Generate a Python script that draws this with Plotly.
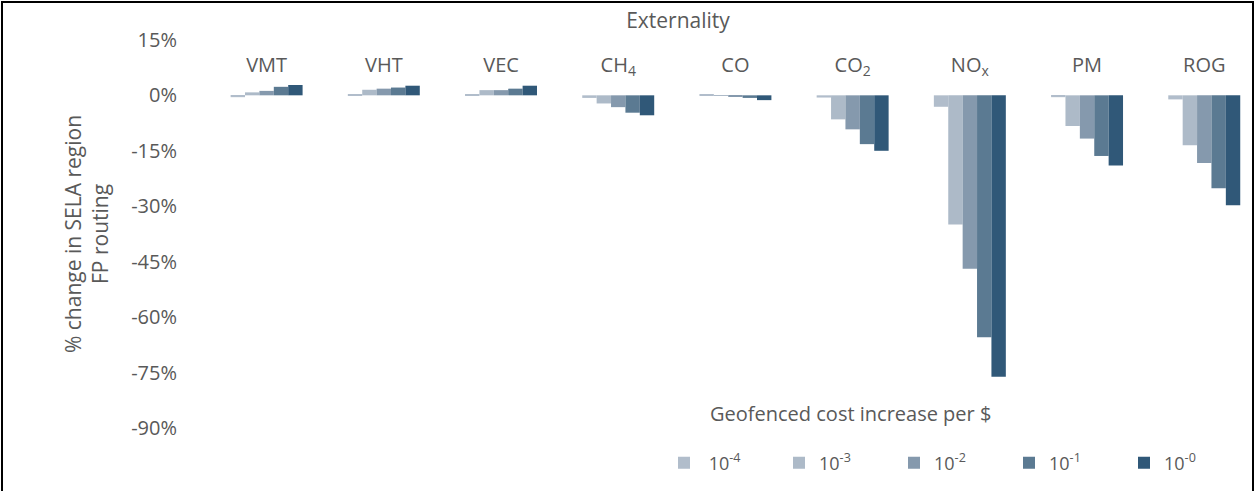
import plotly.graph_objects as go

categories = ["VMT", "VHT", "VEC", "CH<sub>4</sub>", "CO", "CO<sub>2</sub>", "NO<sub>x</sub>", "PM", "ROG"]
series_names = [" 10<sup>-4</sup>", "10<sup>-3</sup>", "10<sup>-2</sup>", "10<sup>-1</sup>", "10<sup>-0</sup>"]

# % change values (fractions) per series
s_1e4 = [-0.005, 0.002, 0.002, -0.007, 0.003, -0.006, -0.031, -0.005, -0.011]
s_1e3 = [0.008, 0.015, 0.014, -0.022, -0.001, -0.065, -0.349, -0.083, -0.135]
s_1e2 = [0.012, 0.018, 0.014, -0.032, -0.003, -0.092, -0.469, -0.117, -0.183]
s_1e1 = [0.023, 0.021, 0.018, -0.047, -0.007, -0.132, -0.654, -0.164, -0.251]
s_1e0 = [0.028, 0.026, 0.026, -0.054, -0.013, -0.150, -0.761, -0.190, -0.297]

series_values = [s_1e4, s_1e3, s_1e2, s_1e1, s_1e0]
colors = ["#b1bdcb", "#adbac8", "#8599ad", "#5b7a92", "#305878"]

y_ticks = [0.15, 0, -0.15, -0.30, -0.45, -0.60, -0.75, -0.90]
y_ticktext = ["15%", "0%", "-15%", "-30%", "-45%", "-60%", "-75%", "-90%"]

W, H = 1257, 491
ML, MR, MT, MB = 208, 0, 38, 61
PW = W - ML - MR
PH = H - MT - MB

def px_x(p):
    return (p - ML) / PW

def px_y(p):
    return (H - MB - p) / PH

fig = go.Figure()
for name, vals, col in zip(series_names, series_values, colors):
    fig.add_trace(go.Bar(x=categories, y=vals, name=name, marker=dict(color=col, line=dict(width=0))))

grey = "#595959"
font = "'Open Sans', Lato, sans-serif"

fig.update_layout(
    width=W, height=H,
    margin=dict(l=ML, r=MR, t=MT, b=MB, autoexpand=False),
    paper_bgcolor="white", plot_bgcolor="white",
    font=dict(family=font, color=grey, size=17),
    barmode="group", bargap=0.386, bargroupgap=0,
    title=dict(text="Externality", x=678 / W, xanchor="center", y=1 - 21 / H, yanchor="middle",
               font=dict(size=21, color=grey, family=font)),
    xaxis=dict(side="top", anchor="free", position=px_y(76), automargin=False,
               range=[-0.5, 8.45], showgrid=False, zeroline=False, showline=False,
               tickfont=dict(size=20, color=grey), ticks=""),
    yaxis=dict(range=[-0.905, 0.155], tickvals=y_ticks, ticktext=y_ticktext, automargin=False,
               showgrid=False, zeroline=False, showline=False, ticks="",
               ticklabelstandoff=30, tickfont=dict(size=20, color=grey)),
    legend=dict(orientation="h", x=px_x(664), y=px_y(463), xanchor="left", yanchor="middle",
                entrywidth=70, entrywidthmode="pixels", font=dict(size=18, color=grey),
                bgcolor="rgba(0,0,0,0)", traceorder="normal"),
    annotations=[
        dict(text="% change in SELA region<br>FP routing", xref="paper", yref="paper",
             x=px_x(86), y=px_y(234), xanchor="center", yanchor="middle", textangle=-90,
             showarrow=False, font=dict(size=21, color=grey)),
        dict(text="Geofenced cost increase per $", xref="paper", yref="paper",
             x=px_x(850), y=px_y(413), xanchor="center", yanchor="middle",
             showarrow=False, font=dict(size=20, color=grey)),
    ],
    shapes=[
        dict(type="rect", xref="paper", yref="paper", x0=px_x(2), x1=px_x(1253),
             y0=px_y(495), y1=px_y(2), line=dict(color="black", width=2), fillcolor="rgba(0,0,0,0)",
             layer="above"),
    ],
)

fig.write_html("out.html", config={"displayModeBar": False},
               post_script="document.body.style.margin='0';document.body.style.overflow='hidden';")
